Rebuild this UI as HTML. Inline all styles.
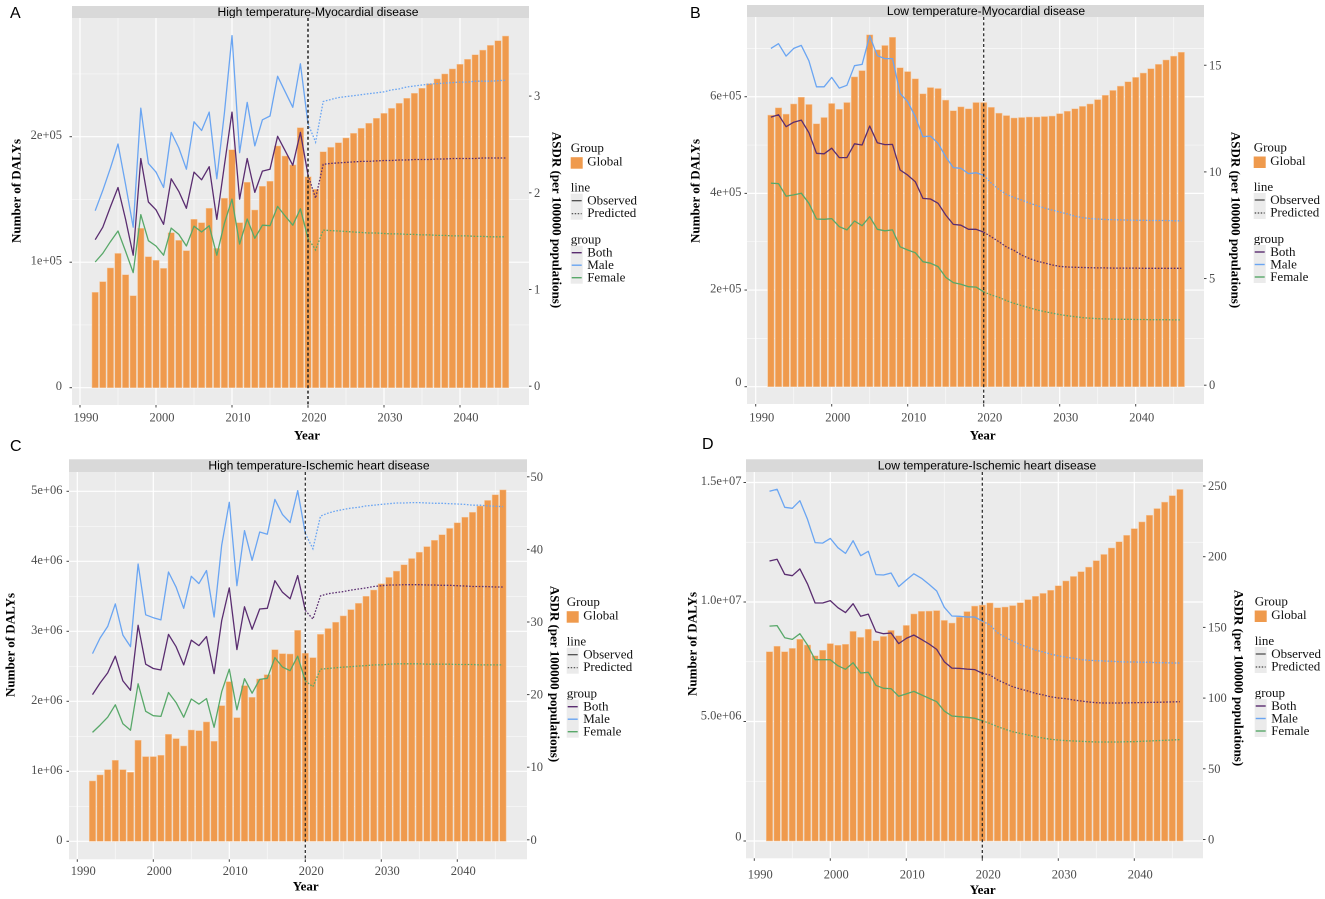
<!DOCTYPE html>
<html>
<head>
<meta charset="utf-8">
<title>DALYs and ASDR by temperature and disease</title>
<style>
html,body{margin:0;padding:0;background:#fff;width:1325px;height:899px;overflow:hidden}
svg{display:block}
text{font-family:"Liberation Serif",serif;dominant-baseline:central}
.tick{font-size:12.5px;fill:#4d4d4d}
.title{font-size:13px;font-weight:bold;fill:#000}
.leg{font-size:13px;fill:#111}
.strip{font-family:"Liberation Sans",sans-serif;font-size:12.1px;fill:#000}
.letter{font-family:"Liberation Sans",sans-serif;font-size:16px;fill:#000;dominant-baseline:auto}
</style>
</head>
<body>
<svg id="figure" width="1325" height="899" viewBox="0 0 1325 899" xmlns="http://www.w3.org/2000/svg"></svg>
<script>
const years = [1992,1993,1994,1995,1996,1997,1998,1999,2000,2001,2002,2003,2004,2005,2006,2007,2008,2009,2010,2011,2012,2013,2014,2015,2016,2017,2018,2019,2020,2021,2022,2023,2024,2025,2026,2027,2028,2029,2030,2031,2032,2033,2034,2035,2036,2037,2038,2039,2040,2041,2042,2043,2044,2045,2046];
const xMajorTicks = [1990,2000,2010,2020,2030,2040];
const xMinorTicks = [1995,2005,2015,2025,2035,2045];
const predictionStartYear = 2020;

const panelABars = [76000,84500,95400,107000,90000,73300,127000,104400,101500,95100,123500,117400,109200,134200,131500,143000,111000,151000,189600,131500,163700,141600,160500,164500,192600,184600,177500,207200,168100,158100,188000,191500,195200,199000,202700,206700,210700,214700,218600,222600,226600,230600,234600,238600,242300,246000,250000,254000,257700,261700,265300,269000,272800,276500,280200];
const panelABoth = [1.53,1.66,1.87,2.07,1.74,1.37,2.37,1.92,1.84,1.69,2.16,2.03,1.855,2.23,2.15,2.285,1.74,2.30,2.85,1.95,2.37,2.02,2.24,2.26,2.60,2.45,2.30,2.64,2.20,1.96,2.31,2.32,2.325,2.33,2.335,2.34,2.34,2.345,2.35,2.35,2.355,2.355,2.36,2.36,2.36,2.365,2.365,2.37,2.37,2.37,2.37,2.375,2.375,2.375,2.375];
const panelAMale = [1.83,2.04,2.27,2.52,2.10,1.66,2.89,2.32,2.23,2.07,2.64,2.48,2.26,2.75,2.66,2.85,2.16,2.84,3.64,2.43,2.95,2.50,2.77,2.81,3.22,3.06,2.90,3.35,2.73,2.54,2.96,2.98,3.00,3.01,3.02,3.03,3.04,3.05,3.06,3.08,3.09,3.11,3.12,3.13,3.14,3.145,3.15,3.155,3.16,3.16,3.17,3.17,3.17,3.175,3.18];
const panelAFemale = [1.30,1.39,1.51,1.62,1.41,1.19,1.79,1.52,1.465,1.37,1.65,1.585,1.465,1.67,1.61,1.675,1.37,1.70,1.95,1.485,1.745,1.545,1.68,1.675,1.875,1.775,1.68,1.85,1.545,1.425,1.63,1.625,1.62,1.615,1.61,1.605,1.60,1.60,1.595,1.59,1.59,1.585,1.585,1.58,1.58,1.575,1.575,1.57,1.57,1.57,1.565,1.565,1.56,1.56,1.56];
const panelALeftTicks = [0,100000,200000];
const panelALeftMinor = [50000,150000,250000];
const panelALeftLabels = ["0","1e+05","2e+05"];
const panelARightTicks = [0,1,2,3];

const panelBBars = [562000,577000,564000,585000,599000,584000,544000,557000,586000,574000,588000,641000,654000,728000,697000,706000,723000,660000,652000,637000,606000,619000,617000,593000,571000,579000,575000,588000,588000,578000,566000,561000,556000,557000,558000,558000,559000,560000,565000,570000,575000,580000,585000,594000,603000,613000,622000,631000,640000,649000,658000,667000,676000,684000,692000];
const panelBBoth = [12.64,12.75,12.19,12.40,12.50,11.91,10.94,10.92,11.18,10.74,10.74,11.39,11.33,12.22,11.44,11.35,11.36,10.16,9.92,9.61,8.83,8.80,8.60,8.05,7.61,7.57,7.38,7.38,7.25,7.03,6.80,6.55,6.39,6.17,6.01,5.89,5.80,5.71,5.64,5.61,5.60,5.59,5.58,5.57,5.57,5.56,5.56,5.56,5.56,5.55,5.55,5.55,5.55,5.55,5.55];
const panelBMale = [15.86,16.08,15.50,15.86,16.0,15.28,14.06,14.06,14.5,14.0,14.13,15.05,15.11,16.45,15.52,15.38,15.38,13.75,13.36,12.66,11.72,11.75,11.41,10.78,10.27,10.24,9.99,10.03,9.91,9.54,9.25,9.01,8.87,8.75,8.61,8.49,8.38,8.28,8.19,8.10,8.0,7.93,7.88,7.86,7.84,7.83,7.82,7.81,7.80,7.80,7.79,7.79,7.79,7.78,7.78];
const panelBFemale = [9.54,9.52,8.93,8.99,9.07,8.60,7.86,7.85,7.88,7.50,7.35,7.77,7.55,7.97,7.38,7.31,7.35,6.56,6.41,6.28,5.86,5.79,5.63,5.13,4.88,4.80,4.69,4.67,4.45,4.30,4.19,4.03,3.91,3.80,3.70,3.60,3.52,3.45,3.38,3.33,3.28,3.24,3.21,3.19,3.18,3.17,3.16,3.16,3.15,3.15,3.14,3.14,3.14,3.13,3.13];
const panelBLeftTicks = [0,200000,400000,600000];
const panelBLeftMinor = [100000,300000,500000,700000];
const panelBLeftLabels = ["0","2e+05","4e+05","6e+05"];
const panelBRightTicks = [0,5,10,15];

const panelCBars = [862000,948000,1024000,1157000,1024000,986000,1443000,1210000,1210000,1229000,1529000,1467000,1362000,1590000,1581000,1705000,1429000,1938000,2281000,1767000,2224000,2057000,2319000,2381000,2738000,2681000,2676000,3014000,2686000,2624000,2957000,3040000,3130000,3220000,3310000,3400000,3500000,3590000,3680000,3770000,3860000,3950000,4040000,4130000,4210000,4300000,4380000,4470000,4550000,4630000,4700000,4790000,4870000,4950000,5020000];
const panelCBoth = [20.2,21.8,23.2,25.5,22.1,20.8,29.75,24.4,23.8,23.6,28.5,26.8,24.3,27.7,26.95,28.2,23.1,30.4,34.9,26.4,32.3,29.2,32.0,32.1,35.9,34.3,33.4,36.6,31.8,30.6,33.8,34.1,34.25,34.4,34.6,34.75,34.9,35.1,35.2,35.3,35.3,35.35,35.35,35.35,35.3,35.3,35.26,35.26,35.2,35.17,35.1,35.1,35.08,35.03,35.03];
const panelCMale = [25.85,28.0,29.6,32.7,28.4,26.8,38.2,31.2,30.8,30.5,37.1,35.0,32.1,36.5,35.5,37.3,30.9,40.8,46.7,35.2,42.8,38.7,42.6,42.3,47.1,45.0,43.9,48.3,42.4,40.3,44.8,45.2,45.5,45.7,45.9,46.0,46.2,46.3,46.4,46.5,46.6,46.6,46.65,46.65,46.6,46.55,46.55,46.5,46.46,46.4,46.3,46.3,46.2,46.15,46.1];
const panelCFemale = [15.0,16.0,17.1,18.8,16.2,15.3,21.7,17.9,17.3,17.2,20.5,19.1,17.1,19.6,18.9,19.65,15.7,20.6,23.7,18.1,22.4,20.4,22.3,22.45,25.3,24.0,23.5,25.5,22.1,21.3,23.7,23.8,23.9,24.0,24.05,24.15,24.2,24.3,24.3,24.4,24.45,24.45,24.45,24.45,24.4,24.4,24.4,24.4,24.35,24.35,24.35,24.3,24.3,24.3,24.3];
const panelCLeftTicks = [0,1000000,2000000,3000000,4000000,5000000];
const panelCLeftMinor = [500000,1500000,2500000,3500000,4500000];
const panelCLeftLabels = ["0","1e+06","2e+06","3e+06","4e+06","5e+06"];
const panelCRightTicks = [0,10,20,30,40,50];

const panelDBars = [7920000,8150000,7920000,8060000,8440000,8200000,7750000,7980000,8260000,8190000,8230000,8770000,8520000,8860000,8380000,8560000,8810000,8590000,9020000,9500000,9610000,9620000,9640000,9230000,9120000,9370000,9600000,9830000,9870000,9960000,9760000,9790000,9850000,9970000,10100000,10240000,10360000,10490000,10680000,10880000,11070000,11270000,11460000,11730000,11990000,12260000,12520000,12790000,13070000,13350000,13630000,13910000,14180000,14450000,14710000];
const panelDBoth = [198,199.2,188.6,187.6,192.4,181.8,168.3,168.3,170,165,161.5,167.8,158.9,160.5,148,146.6,147.1,139.6,143.3,145.7,142.6,139.3,135.5,126.8,122.3,122.1,121.6,121.2,118.6,117.4,113.9,111.5,109.1,107.5,106.1,104.4,103.3,102,101.1,100.7,99.7,99,98.3,97.8,97.6,97.6,97.6,97.7,97.8,97.9,98,98.1,98.2,98.4,98.5];
const panelDMale = [247.3,248.7,236,235.3,240.7,227.5,211,210.7,214,207.4,203.4,212.4,201.8,204.9,188.4,188.1,189.5,179.9,184.6,189,185.8,181.5,176.8,165.3,159.1,158.9,158.4,158.4,155.5,152.8,147.3,144,141.4,139,137,135,133.7,132.2,131,130,129.2,128.2,127.8,127.5,127.3,127.1,126.8,126.6,126.6,126.4,126.4,126.1,126.1,125.9,125.9];
const panelDFemale = [152,152.3,143.8,142.6,146.6,138.6,128.2,128.2,128.2,124,121.4,126.1,118.8,119.3,110.1,108,107.7,102.3,104,105.8,103.3,100.9,98.5,91.9,88.4,87.9,87.5,86.8,85.1,83.2,80.9,79,77.3,76.1,75,73.8,72.8,71.9,71.4,71,70.7,70.5,70.2,70,70,70,70,70.2,70.2,70.5,70.7,71,71.2,71.4,71.7];
const panelDLeftTicks = [0,5000000,10000000,15000000];
const panelDLeftMinor = [2500000,7500000,12500000];
const panelDLeftLabels = ["0","5.0e+06","1.0e+07","1.5e+07"];
const panelDRightTicks = [0,50,100,150,200,250];

const seriesColors = {both:'#5a2d70',male:'#6aa5f2',female:'#58a869'};
const SVGNS = 'http://www.w3.org/2000/svg';
const figure = document.getElementById('figure');

function make(parent, tag, attrs, content) {
  const el = document.createElementNS(SVGNS, tag);
  for (const k in attrs) el.setAttribute(k, attrs[k]);
  if (content !== undefined) el.textContent = content;
  parent.appendChild(el);
  return el;
}

const panels = [
  {key:'a',letter:'A',letterX:10,letterY:18,title:'High temperature-Myocardial disease',titleX:318,stripTop:6,left:72,right:529,top:18,bottom:405,x0:80,zero:387.7,leftScale:125.5/100000,rightScale:96.7,leftLabelX:62,leftLabelDy:[-1.7,-1.7,-1.7],rightLabelX:534,xLabelDx:6,xLabelY:417.7,yearX:307,yearY:435,leftTitleX:16,leftTitleY:191,rightTitleX:557,rightTitleY:220,legendX:570.7,legendY:147.7,bars:panelABars,both:panelABoth,male:panelAMale,female:panelAFemale,leftTicks:panelALeftTicks,leftMinor:panelALeftMinor,leftLabels:panelALeftLabels,rightTicks:panelARightTicks,vw:1.5},
  {key:'b',letter:'B',letterX:690,letterY:18,title:'Low temperature-Myocardial disease',titleX:986,stripTop:5,left:747,right:1204,top:17,bottom:404,x0:755.7,zero:386.7,leftScale:48.33/100000,rightScale:21.33,leftLabelX:741.5,leftLabelDy:[-4.5,-1.5,-1.3,-1],rightLabelX:1209,xLabelDx:6,xLabelY:417.3,yearX:982.7,yearY:435,leftTitleX:695,leftTitleY:191,rightTitleX:1236,rightTitleY:220,legendX:1253.7,legendY:147,bars:panelBBars,both:panelBBoth,male:panelBMale,female:panelBFemale,leftTicks:panelBLeftTicks,leftMinor:panelBLeftMinor,leftLabels:panelBLeftLabels,rightTicks:panelBRightTicks,vw:1.2},
  {key:'c',letter:'C',letterX:10,letterY:451,title:'High temperature-Ischemic heart disease',titleX:319,stripTop:459.3,left:69,right:527,top:472,bottom:859.3,x0:77.3,zero:841.3,leftScale:70/1000000,rightScale:7.26,leftLabelX:62.5,leftLabelDy:[-1.3,-1.3,-1.3,-1.3,-1.3,-1.3],rightLabelX:530.5,xLabelDx:6,xLabelY:871,yearX:305.7,yearY:886,leftTitleX:10,leftTitleY:645,rightTitleX:555,rightTitleY:674,legendX:566.7,legendY:601.7,bars:panelCBars,both:panelCBoth,male:panelCMale,female:panelCFemale,leftTicks:panelCLeftTicks,leftMinor:panelCLeftMinor,leftLabels:panelCLeftLabels,rightTicks:panelCRightTicks,vw:1.2},
  {key:'d',letter:'D',letterX:702,letterY:449,title:'Low temperature-Ischemic heart disease',titleX:987,stripTop:459.3,left:746,right:1203,top:472,bottom:858.3,x0:754.3,zero:841,leftScale:23.9/1000000,rightScale:1.414,leftLabelX:741.5,leftLabelDy:[-4.3,-6,-2,-1.3],rightLabelX:1208,xLabelDx:6,xLabelY:874.3,yearX:982.7,yearY:889.3,leftTitleX:692,leftTitleY:644,rightTitleX:1239,rightTitleY:678,legendX:1254.7,legendY:601,bars:panelDBars,both:panelDBoth,male:panelDMale,female:panelDFemale,leftTicks:panelDLeftTicks,leftMinor:panelDLeftMinor,leftLabels:panelDLeftLabels,rightTicks:panelDRightTicks,vw:1.2}
];

function drawPanel(p) {
  const xScale = year => p.x0 + (year - 1990) * 7.6;
  const yLeft = v => p.zero - v * p.leftScale;
  const yRight = v => p.zero - v * p.rightScale;

  const g = make(figure, 'g', {});
  
  

  const letter = make(g, 'text', {x:p.letterX, y:p.letterY, class:'letter'}, p.letter);
  
  

  const strip = make(g, 'rect', {x:p.left, y:p.stripTop, width:p.right-p.left, height:p.top-p.stripTop, fill:'#d9d9d9'});
  
  

  const stripText = make(g, 'text', {x:p.titleX, y:(p.stripTop+p.top)/2, 'text-anchor':'middle', class:'strip'}, p.title);
  
  

  const bg = make(g, 'rect', {x:p.left, y:p.top, width:p.right-p.left, height:p.bottom-p.top, fill:'#ebebeb'});
  
  

  p.leftMinor.forEach(v => {
    const y = yLeft(v);
    if (y <= p.top) return;
    const line = make(g, 'line', {x1:p.left, x2:p.right, y1:y, y2:y, stroke:'#fff', 'stroke-width':0.7, 'stroke-opacity':0.75});
    
    
  });
  xMinorTicks.forEach(v => {
    const x = xScale(v);
    const line = make(g, 'line', {x1:x, x2:x, y1:p.top, y2:p.bottom, stroke:'#fff', 'stroke-width':0.7, 'stroke-opacity':0.75});
    
    
  });
  p.leftTicks.forEach((v, i) => {
    const y = yLeft(v);
    const line = make(g, 'line', {x1:p.left, x2:p.right, y1:y, y2:y, stroke:'#fff', 'stroke-width':1.2});
    
    
    const tick = make(g, 'line', {x1:p.left-2.5, x2:p.left, y1:y, y2:y, stroke:'#444', 'stroke-width':1});
    
    
    const label = make(g, 'text', {x:p.leftLabelX, y:y+p.leftLabelDy[i], 'text-anchor':'end', class:'tick'}, p.leftLabels[i]);
    
    
  });
  xMajorTicks.forEach(v => {
    const x = xScale(v);
    const line = make(g, 'line', {x1:x, x2:x, y1:p.top, y2:p.bottom, stroke:'#fff', 'stroke-width':1.2});
    
    
    const tick = make(g, 'line', {x1:x, x2:x, y1:p.bottom, y2:p.bottom+2.5, stroke:'#444', 'stroke-width':1});
    
    
    const label = make(g, 'text', {x:x+p.xLabelDx, y:p.xLabelY, 'text-anchor':'middle', class:'tick'}, String(v));
    
    
  });
  p.rightTicks.forEach(v => {
    const y = yRight(v);
    const tick = make(g, 'line', {x1:p.right, x2:p.right+2.5, y1:y-1.5, y2:y-1.5, stroke:'#444', 'stroke-width':1});
    
    
    const label = make(g, 'text', {x:p.rightLabelX, y:y-1.5, class:'tick'}, String(v));
    
    
  });

  years.forEach((year, i) => {
    const top = yLeft(p.bars[i]);
    const bar = make(g, 'rect', {x:xScale(year)-3.2, y:top, width:6.4, height:p.zero-top, fill:'#ef9a4d', stroke:'#f6c9a0', 'stroke-width':0.5});
    
    
  });

  ['male','both','female'].forEach(group => {
    const values = p[group];
    const toPoint = (year, i) => xScale(year).toFixed(1) + ',' + yRight(values[i]).toFixed(1);
    const observed = years.map(toPoint).filter((pt, i) => years[i] <= predictionStartYear);
    const predicted = years.map(toPoint).filter((pt, i) => years[i] >= predictionStartYear);
    const solid = make(g, 'polyline', {points:observed.join(' '), fill:'none', stroke:seriesColors[group], 'stroke-width':1.3, 'stroke-linejoin':'round'});
    
    
    const dotted = make(g, 'polyline', {points:predicted.join(' '), fill:'none', stroke:seriesColors[group], 'stroke-width':1.3, 'stroke-dasharray':'1.6 1.6'});
    
    
  });

  const vx = xScale(predictionStartYear);
  const vline = make(g, 'line', {x1:vx, x2:vx, y1:p.top, y2:p.bottom+2.5, stroke:'#222', 'stroke-width':p.vw, 'stroke-dasharray':'3 2.4'});
  
  

  const yearTitle = make(g, 'text', {x:p.yearX, y:p.yearY, 'text-anchor':'middle', class:'title'}, 'Year');
  
  

  const leftTitle = make(g, 'text', {x:0, y:0, 'text-anchor':'middle', class:'title', transform:'translate('+p.leftTitleX+','+p.leftTitleY+') rotate(-90)'}, 'Number of DALYs');
  
  

  const rightTitle = make(g, 'text', {x:0, y:0, 'text-anchor':'middle', class:'title', transform:'translate('+p.rightTitleX+','+p.rightTitleY+') rotate(90)'}, 'ASDR (per 100000 populations)');
  
  

  drawLegend(g, p.legendX, p.legendY);
}

function drawLegend(parent, x, y) {
  const g = make(parent, 'g', {});
  
  

  const groupTitle = make(g, 'text', {x:x, y:y, class:'leg'}, 'Group');
  
  

  const swatch = make(g, 'rect', {x:x, y:y+9.5, width:12, height:11.5, fill:'#ef9a4d'});
  
  

  const globalText = make(g, 'text', {x:x+16.5, y:y+13.5, class:'leg'}, 'Global');
  
  

  const lineTitle = make(g, 'text', {x:x, y:y+39.5, class:'leg'}, 'line');
  
  

  const lineKeyBg = make(g, 'rect', {x:x, y:y+46, width:12, height:26, fill:'#ebebeb'});
  
  

  const obsKey = make(g, 'line', {x1:x+1, x2:x+11, y1:y+53, y2:y+53, stroke:'#444', 'stroke-width':1.2});
  
  

  const predKey = make(g, 'line', {x1:x+1, x2:x+11, y1:y+66, y2:y+66, stroke:'#444', 'stroke-width':1.2, 'stroke-dasharray':'1.5 1.5'});
  
  

  const obsText = make(g, 'text', {x:x+16.5, y:y+52.5, class:'leg'}, 'Observed');
  
  

  const predText = make(g, 'text', {x:x+16.5, y:y+65, class:'leg'}, 'Predicted');
  
  

  const subTitle = make(g, 'text', {x:x, y:y+91.5, class:'leg'}, 'group');
  
  

  const groupKeyBg = make(g, 'rect', {x:x, y:y+98, width:12, height:38, fill:'#ebebeb'});
  
  

  [['Both','both',104.5],['Male','male',117],['Female','female',129.5]].forEach(entry => {
    const key = make(g, 'line', {x1:x+1, x2:x+11, y1:y+entry[2]+0.5, y2:y+entry[2]+0.5, stroke:seriesColors[entry[1]], 'stroke-width':1.4});
    
    
    const label = make(g, 'text', {x:x+16.5, y:y+entry[2], class:'leg'}, entry[0]);
    
    
  });
}

panels.forEach(drawPanel);
</script>
</body>
</html>
